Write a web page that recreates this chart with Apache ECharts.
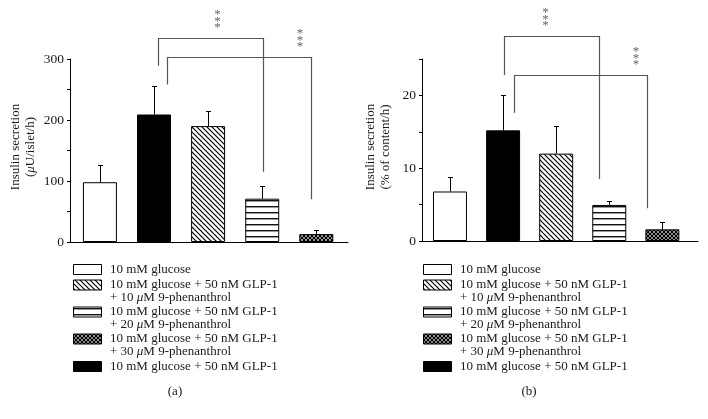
<!DOCTYPE html>
<html>
<head>
<meta charset="utf-8">
<script src="https://cdn.jsdelivr.net/npm/echarts@6/dist/echarts.min.js"></script>
<style>
  html, body { margin: 0; padding: 0; background: #fff; }
  #chart { width: 708px; height: 419px; }
</style>
</head>
<body>
<div id="chart"></div>
<script>
// groups in the order the bars are drawn (left to right)
const groups = ['glucose', 'glucose + GLP-1', '+ 10 uM 9-phen', '+ 20 uM 9-phen', '+ 30 uM 9-phen'];
// legend lists them in another order
const legendOrder = [0, 2, 3, 4, 1];
const legendLabels = [
  '10 mM glucose',
  '10 mM glucose + 50 nM GLP-1',
  '10 mM glucose + 50 nM GLP-1\n+ 10 μM 9-phenanthrol',
  '10 mM glucose + 50 nM GLP-1\n+ 20 μM 9-phenanthrol',
  '10 mM glucose + 50 nM GLP-1\n+ 30 μM 9-phenanthrol'
];

// panel (a) - μU/islet/h
const meansA = [98, 209, 190, 71, 13];
const errTopA = [126, 256, 214, 92, 19];
const ticksA = [0, 100, 200, 300];
// panel (b) - % of content/h
const meansB = [6.8, 15.2, 12.0, 4.95, 1.6];
const errTopB = [8.75, 20.0, 15.8, 5.5, 2.55];
const ticksB = [0, 10, 20];

// significance brackets (***): bar pairs, bracket height, where each leg stops
const pairs = [[1, 3], [1, 4]];
const bracketTopA = [335, 304];
const legEndsA = [[289, 115], [258, 70]];
const bracketTopB = [28.1, 22.8];
const legEndsB = [[22.8, 8.5], [17.6, 4.5]];

const FONT = "'Liberation Serif', 'DejaVu Serif', serif";
const INK = '#1a1a1a';

function makePattern(kind) {
  const s = kind === 'cross' ? 4 : (kind === 'horiz' ? 6 : 5);
  const c = document.createElement('canvas');
  c.width = s; c.height = s;
  const g = c.getContext('2d');
  g.fillStyle = '#fff';
  g.fillRect(0, 0, s, s);
  g.strokeStyle = '#000';
  g.lineWidth = kind === 'cross' ? 1.3 : 1.2;
  if (kind === 'diag' || kind === 'cross') {
    g.beginPath();
    g.moveTo(-1, -1); g.lineTo(s + 1, s + 1);
    g.moveTo(-1, s - 1); g.lineTo(1, s + 1);
    g.moveTo(s - 1, -1); g.lineTo(s + 1, 1);
    g.stroke();
  }
  if (kind === 'cross') {
    g.beginPath();
    g.moveTo(-1, s + 1); g.lineTo(s + 1, -1);
    g.moveTo(-1, 1); g.lineTo(1, -1);
    g.moveTo(s - 1, s + 1); g.lineTo(s + 1, s - 1);
    g.stroke();
  }
  if (kind === 'horiz') {
    g.fillStyle = '#111';
    g.fillRect(0, 2, s, 1);
    g.fillStyle = '#999';
    g.fillRect(0, 3, s, 1);
  }
  return { image: c, repeat: 'repeat' };
}

const fills = ['#fff', '#000', makePattern('diag'), makePattern('horiz'), makePattern('cross')];

// pixel layout per panel
const panels = [
  {
    grid: { left: 70, right: 360, top: 59, bottom: 177 },
    xMin: -0.553, xMax: 4.586,
    yMax: 300, yStep: 50,
    means: meansA, errTop: errTopA, ticks: ticksA,
    bracketTop: bracketTopA, legEnds: legEndsA,
    legDx: [[4, 0.5], [13, -5.5]], starDx: [-46, -11.5],
    title: 'Insulin secretion\n({mu|μ}U/islet/h)', titleX: 23,
    legendX: 73, caption: '(a)', captionX: 175
  },
  {
    grid: { left: 422, right: 10, top: 59, bottom: 178 },
    xMin: -0.527, xMax: 4.671,
    yMax: 25, yStep: 5,
    means: meansB, errTop: errTopB, ticks: ticksB,
    bracketTop: bracketTopB, legEnds: legEndsB,
    legDx: [[1, -10], [10.5, -15.5]], starDx: [-54, -11.5],
    title: 'Insulin secretion\n(% of content/h)', titleX: 378.5,
    legendX: 423, caption: '(b)', captionX: 529
  }
];

const grid = [], xAxis = [], yAxis = [], series = [], graphic = [];

panels.forEach((p, idx) => {
  grid.push(p.grid);
  xAxis.push({
    type: 'value', gridIndex: idx, min: p.xMin, max: p.xMax,
    axisLine: { show: true, onZero: false, lineStyle: { color: '#000', width: 1 } },
    axisTick: { show: false }, axisLabel: { show: false }, splitLine: { show: false }
  });
  yAxis.push({
    type: 'value', gridIndex: idx, min: 0, max: p.yMax, interval: p.yStep,
    axisLine: { show: true, onZero: false, lineStyle: { color: '#000', width: 1 } },
    axisTick: { show: true, inside: false, length: 3, lineStyle: { color: '#000' } },
    axisLabel: {
      margin: 6, color: INK, fontFamily: FONT, fontSize: 13.5,
      formatter: v => (p.ticks.includes(v) ? String(v) : '')
    },
    splitLine: { show: false }
  });

  series.push({
    type: 'bar', xAxisIndex: idx, yAxisIndex: idx, barWidth: 34, silent: true,
    data: p.means.map((v, i) => ({
      value: [i, v],
      itemStyle: { color: fills[i], borderColor: '#000', borderWidth: 1 }
    }))
  });

  // error bars (upper only)
  series.push({
    type: 'custom', xAxisIndex: idx, yAxisIndex: idx, silent: true, z: 3,
    encode: { x: 0, y: [1, 2] },
    data: p.means.map((v, i) => [i, v, p.errTop[i]]),
    renderItem(params, api) {
      const a = api.coord([api.value(0), api.value(1)]);
      const b = api.coord([api.value(0), api.value(2)]);
      const x = Math.round(a[0]) + 0.5, yb = Math.round(b[1]) + 0.5;
      const st = { stroke: '#000', lineWidth: 1 };
      return {
        type: 'group', children: [
          { type: 'line', shape: { x1: x, y1: a[1], x2: x, y2: yb }, style: st },
          { type: 'line', shape: { x1: x - 2.5, y1: yb, x2: x + 2.5, y2: yb }, style: st }
        ]
      };
    }
  });

  // significance brackets
  series.push({
    type: 'custom', xAxisIndex: idx, yAxisIndex: idx, silent: true, clip: false, z: 4,
    encode: { x: [0, 1], y: [2] },
    data: pairs.map((pr, k) => [pr[0], pr[1], p.bracketTop[k], p.legEnds[k][0], p.legEnds[k][1]]),
    renderItem(params, api) {
      const k = params.dataIndex;
      const top = api.coord([api.value(0), api.value(2)]);
      const l = api.coord([api.value(0), api.value(3)]);
      const r = api.coord([api.value(1), api.value(4)]);
      const xl = Math.round(l[0] + p.legDx[k][0]) + 0.5;
      const xr = Math.round(r[0] + p.legDx[k][1]) + 0.5;
      const yt = Math.round(top[1]) + 0.5;
      const children = [{
        type: 'polyline',
        shape: { points: [[xl, l[1]], [xl, yt], [xr, yt], [xr, r[1]]] },
        style: { stroke: '#555', lineWidth: 1.2, fill: null }
      }];
      for (let j = 0; j < 3; j++) {
        children.push({
          type: 'text',
          x: xr + p.starDx[k], y: yt - 23.5 + j * 6.3,
          style: { text: '*', fill: '#666', font: '13px ' + FONT, align: 'center', verticalAlign: 'middle' }
        });
      }
      return { type: 'group', children };
    }
  });

  // y axis title
  graphic.push({
    type: 'text', x: p.titleX, y: 147, rotation: Math.PI / 2,
    style: {
      text: p.title, align: 'center', verticalAlign: 'middle',
      fill: INK, fontFamily: FONT, fontSize: 13, lineHeight: 15,
      rich: { mu: { fontStyle: 'italic', fontFamily: FONT, fontSize: 13, lineHeight: 15, fill: INK } }
    }
  });

  // legend
  const boxTops = [264, 279.5, 306.5, 333.5, 361];
  legendOrder.forEach((gi, row) => {
    const y0 = boxTops[row];
    graphic.push({
      type: 'rect', shape: { x: p.legendX + 0.5, y: y0 + 0.5, width: 28, height: 10 },
      style: { fill: fills[gi], stroke: '#000', lineWidth: 1 }
    });
    graphic.push({
      type: 'text', x: p.legendX + 37, y: y0 + 5.5 - 6.5,
      style: {
        text: legendLabels[gi].replace(/μ/g, '{mu|μ}'), align: 'left', verticalAlign: 'top',
        fill: INK, fontFamily: FONT, fontSize: 13, lineHeight: 13,
        rich: { mu: { fontStyle: 'italic', fontFamily: FONT, fontSize: 13, lineHeight: 13, fill: INK } }
      }
    });
  });

  graphic.push({
    type: 'text', x: p.captionX, y: 392,
    style: { text: p.caption, align: 'center', verticalAlign: 'middle', fill: INK, fontFamily: FONT, fontSize: 13 }
  });
});

const chart = echarts.init(document.getElementById('chart'));
chart.setOption({
  animation: false,
  backgroundColor: '#fff',
  grid, xAxis, yAxis, series, graphic
});
</script>
</body>
</html>
